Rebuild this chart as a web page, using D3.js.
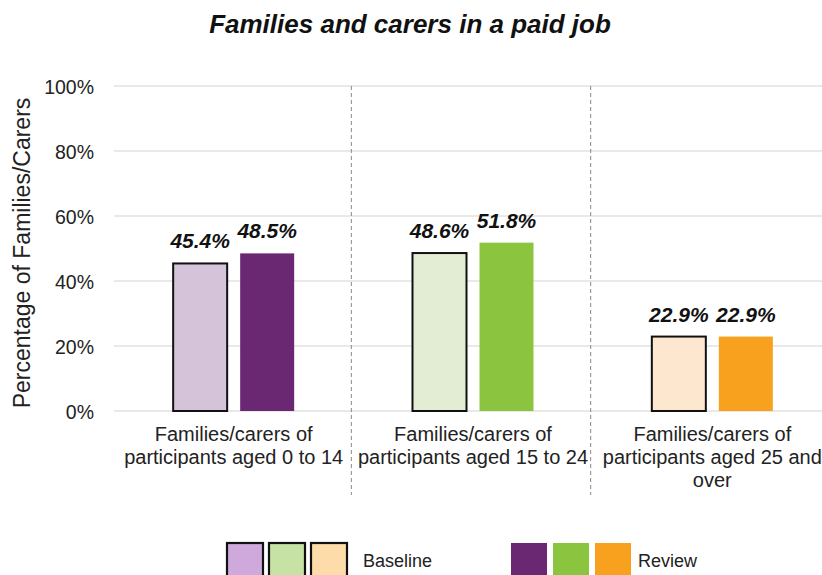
<!DOCTYPE html>
<html>
<head>
<meta charset="utf-8">
<script src="https://cdn.jsdelivr.net/npm/d3@7"></script>
<style>
  html, body { margin: 0; padding: 0; background: #fff; }
  svg { display: block; font-family: "Liberation Sans", Arial, sans-serif; }
</style>
</head>
<body>
<svg id="chart" width="822" height="575"></svg>
<script>
// Age groups shown along the x axis (each label split over lines)
const categories = [
  ["Families/carers of", "participants aged 0 to 14"],
  ["Families/carers of", "participants aged 15 to 24"],
  ["Families/carers of", "participants aged 25 and", "over"]
];
const seriesNames = ["Baseline", "Review"];
const baselineValues = [45.4, 48.6, 22.9];
const reviewValues = [48.5, 51.8, 22.9];
const yTicks = [0, 20, 40, 60, 80, 100];

// Per-group palettes: pale tint for baseline bars, full colour for review bars
const baselineFill = ["#D5C3D9", "#E2EDD4", "#FDE8CF"];
const baselineLegendFill = ["#CFA9DC", "#C6E2A4", "#FDDCA9"];
const reviewFill = ["#6A2873", "#8BC53F", "#F7A11E"];

const svg = d3.select("#chart");
const W = 822, H = 575;
const margin = { left: 114, right: -10, top: 86, bottom: 164 };

const x = d3.scaleBand()
  .domain(d3.range(categories.length))
  .range([margin.left, W - margin.right]);

// Pair of bars centred in each group: 54px bars with a 13px gap
const pairWidth = 121;
const inner = d3.scaleBand()
  .domain(seriesNames)
  .range([x.bandwidth() / 2 - pairWidth / 2, x.bandwidth() / 2 + pairWidth / 2])
  .paddingInner(13 / 67);

const y = d3.scaleLinear().domain([0, 100]).range([H - margin.bottom, margin.top]);

// Title
svg.append("text")
  .attr("x", 410).attr("y", 33)
  .attr("text-anchor", "middle")
  .style("font-size", "26px").style("font-weight", "bold").style("font-style", "italic")
  .attr("fill", "#111")
  .text("Families and carers in a paid job");

// Horizontal gridlines
svg.append("g").selectAll("line").data(yTicks).join("line")
  .attr("x1", margin.left).attr("x2", W)
  .attr("y1", d => y(d)).attr("y2", d => y(d))
  .attr("stroke", "#d4d4d4").attr("stroke-width", 1.2);

// Y axis tick labels
const yAxis = d3.axisLeft(y).tickValues(yTicks).tickFormat(d => d + "%").tickSize(0).tickPadding(20);
const gy = svg.append("g").attr("transform", `translate(${margin.left},0)`).call(yAxis);
gy.select(".domain").remove();
gy.selectAll("text")
  .style("font-size", "19.5px").style("font-family", "'Liberation Sans', Arial, sans-serif")
  .attr("fill", "#222").attr("dy", "0.36em");

// Y axis title
svg.append("text")
  .attr("transform", `translate(30,253) rotate(-90)`)
  .attr("text-anchor", "middle")
  .style("font-size", "23px").attr("fill", "#222")
  .text("Percentage of Families/Carers");

// Dashed group separators
svg.append("g").selectAll("line").data(d3.range(1, categories.length)).join("line")
  .attr("x1", d => x(d) - 2).attr("x2", d => x(d) - 2)
  .attr("y1", y(100)).attr("y2", 495)
  .attr("stroke", "#888").attr("stroke-width", 1).attr("stroke-dasharray", "4,3");

// Bars
const groups = svg.append("g").selectAll("g").data(categories).join("g")
  .attr("transform", (d, i) => `translate(${x(i)},0)`);

groups.append("rect")
  .attr("x", inner("Baseline")).attr("width", inner.bandwidth())
  .attr("y", (d, i) => y(baselineValues[i]))
  .attr("height", (d, i) => y(0) - y(baselineValues[i]))
  .attr("fill", (d, i) => baselineFill[i])
  .attr("stroke", "#111").attr("stroke-width", 2);

groups.append("rect")
  .attr("x", inner("Review")).attr("width", inner.bandwidth())
  .attr("y", (d, i) => y(reviewValues[i]))
  .attr("height", (d, i) => y(0) - y(reviewValues[i]))
  .attr("fill", (d, i) => reviewFill[i]);

// Value labels
const valueLabel = (sel, key, vals) => sel.append("text")
  .attr("x", inner(key) + inner.bandwidth() / 2)
  .attr("y", (d, i) => y(vals[i]) - 15)
  .attr("text-anchor", "middle")
  .style("font-size", "21px").style("font-weight", "bold").style("font-style", "italic")
  .attr("fill", "#111")
  .text((d, i) => vals[i].toFixed(1) + "%");
valueLabel(groups, "Baseline", baselineValues);
valueLabel(groups, "Review", reviewValues);

// Category labels
groups.append("text")
  .attr("y", 441)
  .attr("text-anchor", "middle")
  .style("font-size", "20px").attr("fill", "#222")
  .selectAll("tspan").data(d => d).join("tspan")
  .attr("x", x.bandwidth() / 2)
  .attr("dy", (d, i) => i === 0 ? 0 : 23)
  .text(d => d);

// Legend
const legend = svg.append("g");
const sw = 36, sstep = 42;
const legendItems = [
  { name: seriesNames[0], x0: 227, textX: 363, fills: baselineLegendFill, stroke: true },
  { name: seriesNames[1], x0: 511, textX: 638, fills: reviewFill, stroke: false }
];
legendItems.forEach(item => {
  const g = legend.append("g");
  g.selectAll("rect").data(item.fills).join("rect")
    .attr("x", (d, i) => item.x0 + i * sstep)
    .attr("y", 543).attr("width", sw).attr("height", 36)
    .attr("fill", d => d)
    .attr("stroke", item.stroke ? "#111" : "none").attr("stroke-width", 2.2);
  g.append("text")
    .attr("x", item.textX)
    .attr("y", 567)
    .style("font-size", "18px").attr("fill", "#222")
    .text(item.name);
});
</script>
</body>
</html>
